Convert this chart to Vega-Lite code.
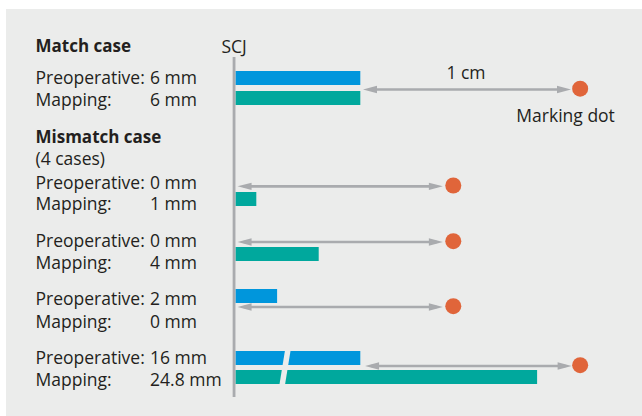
{
  "$schema": "https://vega.github.io/schema/vega-lite/v6.json",
  "width": 642,
  "height": 416,
  "autosize": {"type": "fit", "contains": "padding"},
  "padding": {"left": 6, "top": 9, "right": 0, "bottom": 0},
  "background": "#ffffff",
  "config": {
    "view": {"fill": "#ebeceb", "stroke": null},
    "text": {"font": "Open Sans", "fontSize": 17.5, "color": "#231f20", "baseline": "alphabetic"}
  },
  "datasets": {
    "bars": [
      {"case": "Match", "measure": "Preoperative", "value_mm": 6, "start_mm": 0, "drawn_mm": 6, "top": 71, "bottom": 85},
      {"case": "Match", "measure": "Mapping", "value_mm": 6, "start_mm": 0, "drawn_mm": 6, "top": 91, "bottom": 105},
      {"case": "Mismatch 1", "measure": "Preoperative", "value_mm": 0, "start_mm": 0, "drawn_mm": 0, "top": 172, "bottom": 186},
      {"case": "Mismatch 1", "measure": "Mapping", "value_mm": 1, "start_mm": 0, "drawn_mm": 1, "top": 192, "bottom": 206},
      {"case": "Mismatch 2", "measure": "Preoperative", "value_mm": 0, "start_mm": 0, "drawn_mm": 0, "top": 228, "bottom": 242},
      {"case": "Mismatch 2", "measure": "Mapping", "value_mm": 4, "start_mm": 0, "drawn_mm": 4, "top": 247, "bottom": 261},
      {"case": "Mismatch 3", "measure": "Preoperative", "value_mm": 2, "start_mm": 0, "drawn_mm": 2, "top": 289, "bottom": 303},
      {"case": "Mismatch 3", "measure": "Mapping", "value_mm": 0, "start_mm": 0, "drawn_mm": 0, "top": 309, "bottom": 323},
      {"case": "Mismatch 4", "measure": "Preoperative", "value_mm": 16, "start_mm": 0, "drawn_mm": 6, "top": 351, "bottom": 365},
      {"case": "Mismatch 4", "measure": "Mapping", "value_mm": 24.8, "start_mm": 0, "drawn_mm": 14.5, "top": 370, "bottom": 384}
    ],
    "arrows": [
      {"case": "Match", "y": 89.5, "from": 6.13, "to": 16.13, "dot": 16.57},
      {"case": "Mismatch 1", "y": 186.3, "from": 0.1, "to": 9.97, "dot": 10.47},
      {"case": "Mismatch 2", "y": 242, "from": 0.1, "to": 9.97, "dot": 10.47},
      {"case": "Mismatch 3", "y": 307, "from": 0.1, "to": 9.97, "dot": 10.47},
      {"case": "Mismatch 4", "y": 366, "from": 6.23, "to": 16.16, "dot": 16.57}
    ],
    "lines": [
      {"label": "Preoperative:", "value": "6 mm", "y": 84.3},
      {"label": "Mapping:", "value": "6 mm", "y": 105.5},
      {"label": "Preoperative:", "value": "0 mm", "y": 189},
      {"label": "Mapping:", "value": "1 mm", "y": 210.3},
      {"label": "Preoperative:", "value": "0 mm", "y": 246.7},
      {"label": "Mapping:", "value": "4 mm", "y": 269.3},
      {"label": "Preoperative:", "value": "2 mm", "y": 305},
      {"label": "Mapping:", "value": "0 mm", "y": 328.3},
      {"label": "Preoperative:", "value": "16 mm", "y": 364.3},
      {"label": "Mapping:", "value": "24.8 mm", "y": 386}
    ],
    "headers": [
      {"text": "Match case", "x": -9.615, "y": 52.3},
      {"text": "Mismatch case", "x": -9.615, "y": 142.7}
    ],
    "leftnotes": [
      {"text": "(4 cases)", "x": -9.615, "y": 165}
    ],
    "centernotes": [
      {"text": "SCJ", "x": -0.07, "y": 53},
      {"text": "1 cm", "x": 11.08, "y": 79.3},
      {"text": "Marking dot", "x": 15.87, "y": 121.7}
    ],
    "scj": [{"x": -0.07, "y": 57, "y2": 397}],
    "breakmark": [{"x": 2.54, "x2": 2.22, "y": 347, "y2": 388}]
  },
  "layer": [
    {
      "data": {"name": "bars"},
      "mark": {"type": "rect"},
      "encoding": {
        "x": {"field": "start_mm", "type": "quantitative", "scale": {"domain": [-11.034, 19.543], "nice": false, "zero": false}, "axis": null},
        "x2": {"field": "drawn_mm"},
        "y": {"field": "top", "type": "quantitative", "scale": {"domain": [9, 416], "reverse": true, "nice": false, "zero": false}, "axis": null},
        "y2": {"field": "bottom"},
        "color": {"field": "measure", "type": "nominal", "scale": {"domain": ["Preoperative", "Mapping"], "range": ["#0096dc", "#00a89d"]}, "legend": null}
      }
    },
    {
      "data": {"name": "breakmark"},
      "mark": {"type": "rule", "strokeWidth": 5.5, "color": "#ebeceb"},
      "encoding": {
        "x": {"field": "x", "type": "quantitative", "scale": {"domain": [-11.034, 19.543], "nice": false, "zero": false}, "axis": null},
        "x2": {"field": "x2"},
        "y": {"field": "y", "type": "quantitative", "scale": {"domain": [9, 416], "reverse": true, "nice": false, "zero": false}, "axis": null},
        "y2": {"field": "y2"}
      }
    },
    {
      "data": {"name": "scj"},
      "mark": {"type": "rule", "strokeWidth": 2.8, "color": "#a9abae"},
      "encoding": {
        "x": {"field": "x", "type": "quantitative", "scale": {"domain": [-11.034, 19.543], "nice": false, "zero": false}, "axis": null},
        "y": {"field": "y", "type": "quantitative", "scale": {"domain": [9, 416], "reverse": true, "nice": false, "zero": false}, "axis": null},
        "y2": {"field": "y2"}
      }
    },
    {
      "data": {"name": "arrows"},
      "mark": {"type": "rule", "strokeWidth": 2.7, "color": "#a9abae", "xOffset": 6, "x2Offset": -6},
      "encoding": {
        "x": {"field": "from", "type": "quantitative", "scale": {"domain": [-11.034, 19.543], "nice": false, "zero": false}, "axis": null},
        "x2": {"field": "to"},
        "y": {"field": "y", "type": "quantitative", "scale": {"domain": [9, 416], "reverse": true, "nice": false, "zero": false}, "axis": null}
      }
    },
    {
      "data": {"name": "arrows"},
      "mark": {"type": "point", "shape": "M0,0L2,-0.52L2,0.52Z", "size": 196, "filled": true, "opacity": 1, "color": "#a9abae"},
      "encoding": {
        "x": {"field": "from", "type": "quantitative", "scale": {"domain": [-11.034, 19.543], "nice": false, "zero": false}, "axis": null},
        "y": {"field": "y", "type": "quantitative", "scale": {"domain": [9, 416], "reverse": true, "nice": false, "zero": false}, "axis": null}
      }
    },
    {
      "data": {"name": "arrows"},
      "mark": {"type": "point", "shape": "M0,0L-2,-0.52L-2,0.52Z", "size": 196, "filled": true, "opacity": 1, "color": "#a9abae"},
      "encoding": {
        "x": {"field": "to", "type": "quantitative", "scale": {"domain": [-11.034, 19.543], "nice": false, "zero": false}, "axis": null},
        "y": {"field": "y", "type": "quantitative", "scale": {"domain": [9, 416], "reverse": true, "nice": false, "zero": false}, "axis": null}
      }
    },
    {
      "data": {"name": "arrows"},
      "mark": {"type": "point", "shape": "circle", "size": 256, "filled": true, "opacity": 1, "color": "#e0653a", "yOffset": -0.8},
      "encoding": {
        "x": {"field": "dot", "type": "quantitative", "scale": {"domain": [-11.034, 19.543], "nice": false, "zero": false}, "axis": null},
        "y": {"field": "y", "type": "quantitative", "scale": {"domain": [9, 416], "reverse": true, "nice": false, "zero": false}, "axis": null}
      }
    },
    {
      "data": {"name": "headers"},
      "mark": {"type": "text", "align": "left", "fontWeight": "bold", "fontSize": 17},
      "encoding": {
        "x": {"field": "x", "type": "quantitative", "scale": {"domain": [-11.034, 19.543], "nice": false, "zero": false}, "axis": null},
        "y": {"field": "y", "type": "quantitative", "scale": {"domain": [9, 416], "reverse": true, "nice": false, "zero": false}, "axis": null},
        "text": {"field": "text"}
      }
    },
    {
      "data": {"name": "lines"},
      "mark": {"type": "text", "align": "left"},
      "encoding": {
        "x": {"datum": -9.615, "type": "quantitative", "scale": {"domain": [-11.034, 19.543], "nice": false, "zero": false}, "axis": null},
        "y": {"field": "y", "type": "quantitative", "scale": {"domain": [9, 416], "reverse": true, "nice": false, "zero": false}, "axis": null},
        "text": {"field": "label"}
      }
    },
    {
      "data": {"name": "lines"},
      "mark": {"type": "text", "align": "left"},
      "encoding": {
        "x": {"datum": -4.11, "type": "quantitative", "scale": {"domain": [-11.034, 19.543], "nice": false, "zero": false}, "axis": null},
        "y": {"field": "y", "type": "quantitative", "scale": {"domain": [9, 416], "reverse": true, "nice": false, "zero": false}, "axis": null},
        "text": {"field": "value"}
      }
    },
    {
      "data": {"name": "leftnotes"},
      "mark": {"type": "text", "align": "left"},
      "encoding": {
        "x": {"field": "x", "type": "quantitative", "scale": {"domain": [-11.034, 19.543], "nice": false, "zero": false}, "axis": null},
        "y": {"field": "y", "type": "quantitative", "scale": {"domain": [9, 416], "reverse": true, "nice": false, "zero": false}, "axis": null},
        "text": {"field": "text"}
      }
    },
    {
      "data": {"name": "centernotes"},
      "mark": {"type": "text", "align": "center"},
      "encoding": {
        "x": {"field": "x", "type": "quantitative", "scale": {"domain": [-11.034, 19.543], "nice": false, "zero": false}, "axis": null},
        "y": {"field": "y", "type": "quantitative", "scale": {"domain": [9, 416], "reverse": true, "nice": false, "zero": false}, "axis": null},
        "text": {"field": "text"}
      }
    }
  ]
}
